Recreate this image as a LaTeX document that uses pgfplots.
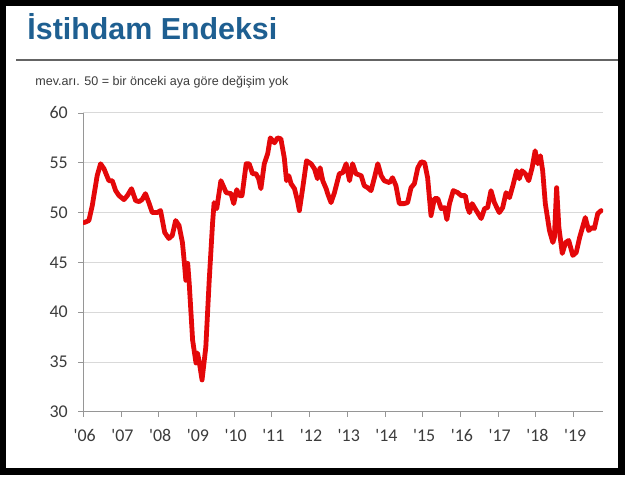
\documentclass[border=0pt]{standalone}
\usepackage{pgfplots}
\pgfplotsset{compat=1.18}
\usepackage{fontspec}
\setmainfont{Liberation Sans}
\newfontfamily\tickfont{Carlito}
\definecolor{titleblue}{RGB}{30,95,145}
\definecolor{linered}{RGB}{228,8,10}
\definecolor{gridgray}{RGB}{217,217,217}
\definecolor{axgray}{RGB}{150,150,150}
\definecolor{labgray}{RGB}{60,60,60}
\definecolor{rulegray}{RGB}{100,100,100}
\begin{document}
\begin{tikzpicture}[x=1bp,y=1bp]
\fill[white] (0,0) rectangle (640,482);
\begin{axis}[
  at={(83bp,70bp)}, anchor=south west,
  scale only axis, width=520bp, height=299bp,
  xmin=2006, xmax=2019.78, ymin=30, ymax=60,
  axis x line*=bottom, axis y line*=left,
  axis line style={-, axgray, line width=0.8bp},
  xtick={2006,2007,2008,2009,2010,2011,2012,2013,2014,2015,2016,2017,2018,2019},
  xticklabels={'06,'07,'08,'09,'10,'11,'12,'13,'14,'15,'16,'17,'18,'19},
  ytick={30,35,40,45,50,55,60},
  ymajorgrids, major grid style={gridgray, line width=0.9bp},
  tick align=outside, major tick length=5bp,
  tick style={axgray, line width=0.8bp},
  ticklabel style={font=\tickfont\fontsize{18}{18}\selectfont, text=labgray},
  /pgf/number format/assume math mode=true,
  xticklabel style={yshift=-9bp, xshift=1.5bp},
  yticklabel style={xshift=-7bp},
]
\addplot[linered, line width=4.8bp, line join=round, line cap=round] table {
x y
2006.03 49.0
2006.15 49.2
2006.24 50.7
2006.37 53.7
2006.46 54.9
2006.55 54.4
2006.68 53.2
2006.77 53.2
2006.86 52.2
2006.95 51.7
2007.08 51.3
2007.17 51.7
2007.28 52.4
2007.39 51.2
2007.48 51.1
2007.56 51.3
2007.65 51.9
2007.74 51.0
2007.83 50.0
2007.96 50.0
2008.05 50.2
2008.16 48.0
2008.27 47.4
2008.36 47.7
2008.45 49.2
2008.54 48.7
2008.63 47.0
2008.68 45.0
2008.72 43.2
2008.77 44.9
2008.81 42.9
2008.90 37.2
2008.99 34.9
2009.03 35.9
2009.08 34.9
2009.15 33.2
2009.25 36.5
2009.34 43.2
2009.43 49.0
2009.47 51.0
2009.54 50.4
2009.65 53.2
2009.79 52.0
2009.92 51.9
2009.99 50.9
2010.07 52.3
2010.14 51.7
2010.21 51.7
2010.32 54.9
2010.40 54.9
2010.49 53.9
2010.58 53.9
2010.65 53.4
2010.71 52.4
2010.80 54.9
2010.89 55.9
2010.96 57.5
2011.07 57.0
2011.15 57.5
2011.24 57.4
2011.33 55.5
2011.39 53.2
2011.45 53.7
2011.51 52.9
2011.60 52.4
2011.68 51.2
2011.73 50.2
2011.82 52.5
2011.92 55.2
2012.04 54.9
2012.13 54.4
2012.21 53.4
2012.28 54.5
2012.35 53.2
2012.44 52.4
2012.48 51.9
2012.57 51.0
2012.66 52.0
2012.79 53.9
2012.88 54.0
2012.97 54.9
2013.06 53.2
2013.14 54.9
2013.23 53.9
2013.37 53.7
2013.45 52.7
2013.54 52.5
2013.63 52.2
2013.72 53.5
2013.81 54.9
2013.90 53.7
2013.98 53.2
2014.12 53.0
2014.20 53.5
2014.29 52.7
2014.38 50.9
2014.51 50.9
2014.60 51.0
2014.69 52.5
2014.78 52.9
2014.87 54.5
2014.96 55.1
2015.05 55.0
2015.13 53.5
2015.22 49.7
2015.31 51.4
2015.40 51.4
2015.49 50.4
2015.58 50.5
2015.64 49.3
2015.71 50.9
2015.81 52.2
2015.93 52.0
2016.02 51.7
2016.13 51.7
2016.19 50.5
2016.24 50.0
2016.31 50.9
2016.42 50.2
2016.55 49.4
2016.64 50.4
2016.72 50.5
2016.81 52.2
2016.90 51.0
2017.03 50.0
2017.12 50.5
2017.21 52.0
2017.30 51.5
2017.39 52.7
2017.49 54.2
2017.56 53.4
2017.63 54.2
2017.72 53.9
2017.81 53.2
2017.90 54.5
2017.98 56.2
2018.05 54.9
2018.12 55.7
2018.18 54.2
2018.25 50.9
2018.36 48.2
2018.45 47.0
2018.49 47.5
2018.55 52.5
2018.61 48.5
2018.70 45.9
2018.79 47.0
2018.87 47.2
2018.98 45.7
2019.07 46.0
2019.16 47.5
2019.31 49.5
2019.40 48.2
2019.49 48.5
2019.55 48.4
2019.64 49.9
2019.73 50.2
};
\end{axis}
\node[anchor=base west, inner sep=0, text=titleblue, font=\fontsize{30.5}{30}\selectfont\bfseries] at (27,442) {İstihdam Endeksi};
\draw[line width=2bp, rulegray] (16,421.5) -- (618.3,421.5);
\node[anchor=mid west, inner sep=0, text=labgray, font=\fontsize{12.6}{14}\selectfont] at (35,399) {mev.arı. 50 = bir önceki aya göre değişim yok};
\draw[line width=6.5bp, black] (3,478.75) rectangle (621.65,10.35);
\end{tikzpicture}
\end{document}
